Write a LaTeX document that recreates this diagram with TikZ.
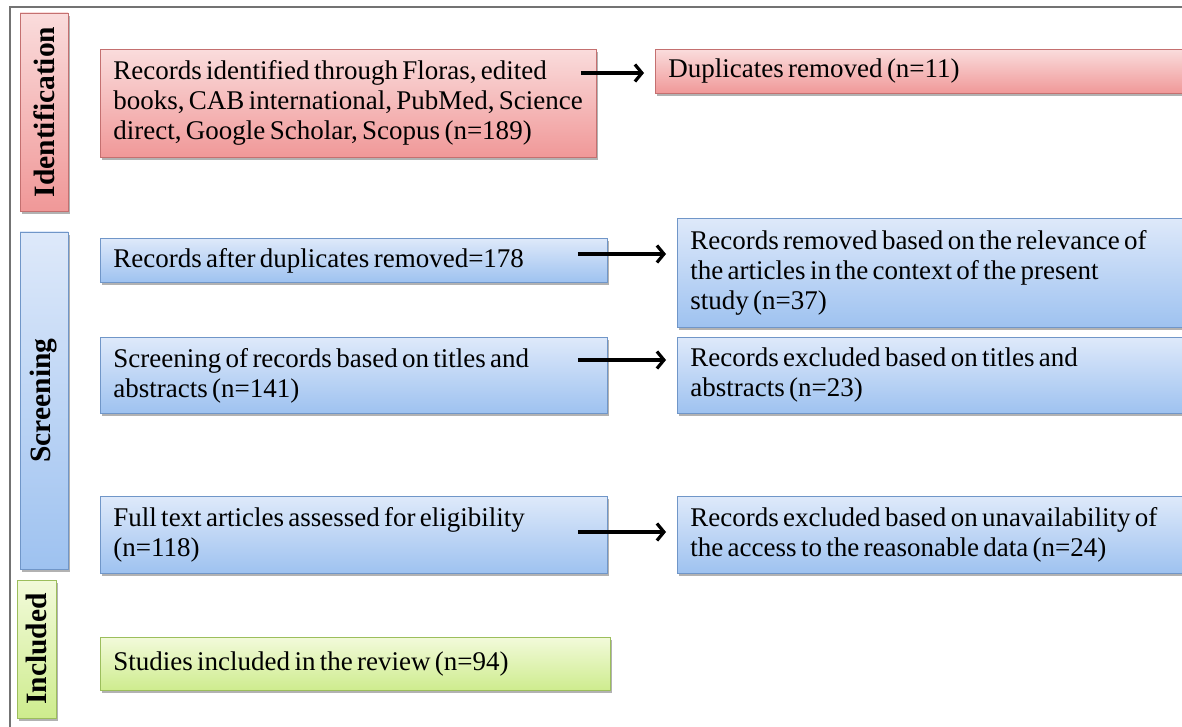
\documentclass[tikz,border=0pt]{standalone}
\usepackage{fontspec}
\setmainfont{Liberation Serif}
\usetikzlibrary{shadows,calc,arrows.meta}

\definecolor{pinktop}{RGB}{250,220,220}
\definecolor{pinkbot}{RGB}{240,152,152}
\definecolor{pinkline}{RGB}{196,112,112}
\definecolor{bluetop}{RGB}{222,233,250}
\definecolor{bluebot}{RGB}{158,194,240}
\definecolor{blueline}{RGB}{112,150,200}
\definecolor{greentop}{RGB}{242,250,218}
\definecolor{greenbot}{RGB}{206,236,142}
\definecolor{greenline}{RGB}{156,190,92}

\newcommand\tightwords{\spaceskip=0.16em plus 0.05em minus 0.03em\relax}

\tikzset{
  stage/.style={draw=#1line, line width=0.8pt, top color=#1top, bottom color=#1bot,
    drop shadow={shadow xshift=1.5pt, shadow yshift=-3pt, opacity=0.3, fill=black},
    anchor=north west, inner xsep=13pt, inner ysep=0pt, align=left,
    font=\fontsize{27}{30}\selectfont, execute at begin node=\tightwords},
  phase/.style={draw=#1line, line width=0.8pt, top color=#1top, bottom color=#1bot,
    drop shadow={shadow xshift=1.5pt, shadow yshift=-3pt, opacity=0.3, fill=black},
    rotate=90, inner sep=0pt, align=center,
    font=\bfseries\fontsize{29.5}{30}\selectfont},
  flowarrow/.style={line width=3.2pt, -{Straight Barb[length=7pt,width=17pt]}, shorten >=11pt},
}

\begin{document}
\begin{tikzpicture}[x=1pt, y=-1pt]
    \useasboundingbox (0,0) rectangle (1182,727);
    \fill[white] (0,0) rectangle (1182,727);
    \clip (0,0) rectangle (1182,727);

    % Frame
    \draw[line width=1.2pt, black!55] (1182,7) -- (10,7) -- (10,727);

    % Phase labels
    \node[phase=pink, minimum width=198pt, minimum height=48pt] (identside) at (44,112) {Identification};
    \node[phase=blue, minimum width=337pt, minimum height=48pt] (screenside) at (44,400.5) {Screening};
    \node[phase=green, minimum width=138pt, minimum height=39pt] (inclside) at (36.5,649) {Included};

    % Left column
    \node[stage=pink, text width=470pt, minimum height=108pt] (ident) at (100,49)
      {Records identified through Floras, edited\\ \mbox{books, CAB international, PubMed, Science}\\ direct, Google Scholar, Scopus (n=189)};
    \node[stage=blue, text width=481pt, minimum height=44pt] (after) at (100,238)
      {Records after duplicates removed=178};
    \node[stage=blue, text width=481pt, minimum height=76pt] (screen) at (100,337)
      {Screening of records based on titles and\\ abstracts (n=141)};
    \node[stage=blue, text width=481pt, minimum height=77pt] (full) at (100,496)
      {Full text articles assessed for eligibility\\ (n=118)};
    \node[stage=green, text width=484pt, minimum height=53pt] (studies) at (100,637)
      {Studies included in the review (n=94)};

    % Right column
    \node[stage=pink, text width=520pt, minimum height=44pt] (dup) at (655,49)
      {Duplicates removed (n=11)};
    \node[stage=blue, text width=500pt, minimum height=109pt] (relev) at (677,218)
      {Records removed based on the relevance of\\ the articles in the context of the present\\ study (n=37)};
    \node[stage=blue, text width=500pt, minimum height=76pt] (excl) at (677,337)
      {Records excluded based on titles and\\ abstracts (n=23)};
    \node[stage=blue, text width=500pt, minimum height=77pt] (unavail) at (677,496)
      {Records excluded based on unavailability of\\ the access to the reasonable data (n=24)};

    % Arrows
    \foreach \a/\b/\y/\s in {ident/dup/73/16, after/relev/254/30, screen/excl/360/30, full/unavail/532/30}
      \draw[flowarrow] ($(\a.east |- 0,\y)+(-\s,0)$) -- (\b.west |- 0,\y);
\end{tikzpicture}
\end{document}
